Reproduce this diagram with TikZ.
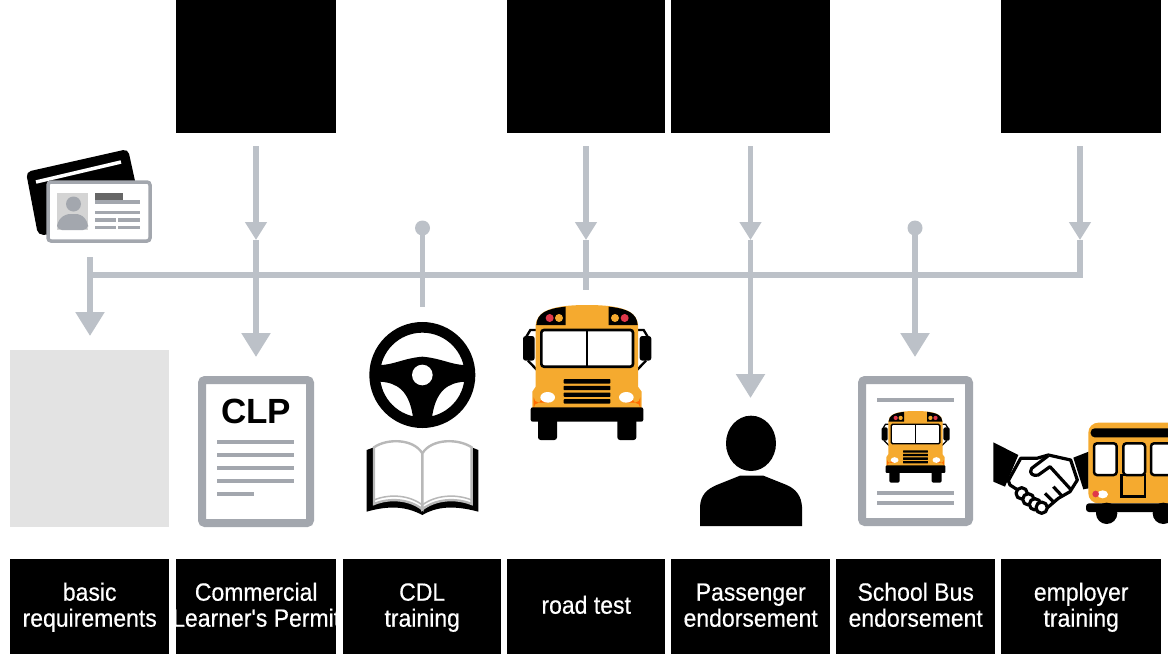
\documentclass[tikz,border=0pt]{standalone}
\usepackage{fontspec}
\setmainfont{Liberation Sans}
\newfontfamily\lblfont[FakeStretch=0.92,FakeBold=0.4]{Liberation Sans}
\usetikzlibrary{arrows.meta}
\definecolor{flowgrey}{HTML}{BCC1C8}
\definecolor{docgrey}{HTML}{A3A7AE}
\definecolor{busorange}{HTML}{F5AA2F}
\definecolor{busred}{HTML}{E0384A}
\tikzset{
    flow/.style={draw=flowgrey,line width=5.5pt},
    midhead/.style={-{Triangle[width=21pt,length=18pt]}},
    endhead/.style={-{Triangle[width=28pt,length=24pt]}},
    topbox/.style={fill=black,minimum width=#1,minimum height=133pt,inner sep=0pt,anchor=north west},
    lblbox/.style={fill=black,text=white,minimum width=#1,minimum height=95pt,inner sep=0pt,anchor=north west,
        align=center,font=\lblfont\fontsize{25}{26}\selectfont},
    docframe/.style={draw=docgrey,fill=white,line width=8pt,rounded corners=3pt},
    docline/.style={draw=docgrey,line width=4pt},
    handline/.style={line width=3.2pt,line join=round},
}
\newcommand{\lblstrut}{\rule[-6pt]{0pt}{26pt}}
\newcommand{\schoolbus}[3]{
    \begin{scope}[shift={(#1,#2)},scale=#3,shift={(-232,-45)}]
        % mirrors
        \draw[line width=#3*7pt] (80,120) -- (62,120) -- (50,140);
        \draw[line width=#3*7pt] (384,120) -- (402,120) -- (414,140);
        \draw[line width=#3*7pt] (55,212) -- (82,240);
        \draw[line width=#3*7pt] (409,212) -- (382,240);
        \fill[rounded corners=#3*8pt] (40,138) rectangle (75,212);
        \fill[rounded corners=#3*8pt] (390,138) rectangle (425,212);
        % body
        \fill[busorange] (78,105) .. controls (82,70) and (110,45) .. (232,45) .. controls (354,45) and (382,70) .. (385,105)
            -- (385,290) -- (396,305) -- (396,355) -- (68,355) -- (68,305) -- (78,290) -- cycle;
        \fill (80,105) .. controls (82,70) and (110,56) .. (168,50) -- (168,105) -- cycle;
        \fill (384,105) .. controls (382,70) and (354,56) .. (297,50) -- (297,105) -- cycle;
        \fill[busred] (120,84) circle (12);
        \fill[busorange] (148,84) circle (12);
        \fill[busorange] (316,84) circle (12);
        \fill[busred] (345,84) circle (12);
        \draw[fill=white,line width=#3*8pt,rounded corners=#3*8pt] (95,120) rectangle (370,230);
        \draw[line width=#3*8pt] (232,120) -- (232,230);
        \foreach \gy in {274,294,314,334}
            \fill[rounded corners=#3*2pt] (162,\gy-6.5) rectangle (302,\gy+6.5);
        \fill[orange!85!red] (72,322) arc (180:90:16) -- (114,306) -- (114,338) -- (88,338) arc (270:180:16);
        \fill[orange!85!red] (392,322) arc (0:90:16) -- (350,306) -- (350,338) -- (376,338) arc (270:360:16);
        \fill[white] (114,322) ellipse (22 and 16);
        \fill[white] (350,322) ellipse (22 and 16);
        % bumper and wheels
        \fill[rounded corners=#3*8pt] (85,385) rectangle (142,450);
        \fill[rounded corners=#3*8pt] (323,385) rectangle (380,450);
        \fill[rounded corners=#3*6pt] (63,352) rectangle (401,395);
    \end{scope}
}

\begin{document}
\begin{tikzpicture}[x=1pt,y=-1pt]
    \useasboundingbox (0,0) rectangle (1168,656);
    % top boxes
    \node[topbox=160pt] (topclp) at (176,0) {};
    \node[topbox=158pt] (toproad) at (507,0) {};
    \node[topbox=159pt] (toppass) at (671,0) {};
    \node[topbox=160pt] (topempl) at (1001,0) {};
    % label boxes
    \node[lblbox=159pt] (lblbasic) at (10,559) {\lblstrut basic\\\lblstrut requirements};
    \node[lblbox=160pt] (lblclp) at (176,559) {\lblstrut Commercial\\\lblstrut\makebox[160pt][c]{Learner's Permit}};
    \node[lblbox=158pt] (lblcdl) at (343,559) {\lblstrut CDL\\\lblstrut training};
    \node[lblbox=158pt] (lblroad) at (507,559) {\lblstrut road test};
    \node[lblbox=159pt] (lblpass) at (671,559) {\lblstrut Passenger\\\lblstrut endorsement};
    \node[lblbox=159pt] (lblschool) at (836,559) {\lblstrut School Bus\\\lblstrut endorsement};
    \node[lblbox=160pt] (lblempl) at (1001,559) {\lblstrut employer\\\lblstrut training};
    \node[fill=black!11,minimum width=159pt,minimum height=177pt,inner sep=0pt,anchor=north west] (basicbox) at (10,350) {};

    % connectors
    \coordinate (bara) at (90,275);
    \coordinate (barb) at (1083,275);
    \coordinate (basicstart) at (90,257);
    \coordinate (basicend) at (90,336);
    \coordinate (clpstart) at (256,146);
    \coordinate (clpmid) at (256,240);
    \coordinate (clpend) at (256,357);
    \coordinate (roadstart) at (586,146);
    \coordinate (roadmid) at (586,240);
    \coordinate (roadend) at (586,290);
    \coordinate (passstart) at (750.5,146);
    \coordinate (passmid) at (750.5,240);
    \coordinate (passend) at (750.5,398);
    \coordinate (emplstart) at (1080,146);
    \coordinate (emplmid) at (1080,240);
    \coordinate (emplend) at (1080,278);
    \coordinate (cdldot) at (422.5,228);
    \coordinate (cdlend) at (422.5,307);
    \coordinate (schooldot) at (915,228);
    \coordinate (schoolend) at (915,357);
    \draw[flow] (bara) -- (barb);
    \draw[flow,endhead] (basicstart) -- (basicend);
    \foreach \stem in {clp,road,pass,empl}
        \draw[flow,midhead] (\stem start) -- (\stem mid);
    \draw[flow,endhead] (clpmid) -- (clpend);
    \draw[flow] (roadmid) -- (roadend);
    \draw[flow,endhead] (passmid) -- (passend);
    \draw[flow] (emplmid) -- (emplend);
    \fill[flowgrey] (cdldot) circle (7.5);
    \draw[flow] (cdldot) -- (cdlend);
    \fill[flowgrey] (schooldot) circle (7.5);
    \draw[flow,endhead] (schooldot) -- (schoolend);

    % id cards
    \fill[rounded corners=5pt] (26,172) -- (128,149) -- (137,190) -- (120,232) -- (38,235) -- cycle;
    \draw[white,line width=3.5pt] (36,182) -- (121,162);
    \draw[draw=docgrey,fill=white,line width=3.5pt,rounded corners=3pt] (48,182) rectangle (150,241);
    \fill[black!17] (57,193) rectangle (88,230);
    \fill[docgrey] (73.5,204) circle (7.5);
    \fill[docgrey,rounded corners=5pt] (57,230) -- (57,222) -- (65,214) -- (81,214) -- (88,222) -- (88,230) -- cycle;
    \fill[black!60] (94.5,193) rectangle (123,200);
    \fill[docgrey] (94.5,200) rectangle (140,204);
    \fill[docgrey] (94.5,210.5) rectangle (140,214);
    \fill[docgrey] (94.5,218) rectangle (116,221.5);
    \fill[docgrey] (118,218) rectangle (140,221.5);
    \fill[docgrey] (94.5,226) rectangle (116,229);
    \fill[docgrey] (118,226) rectangle (140,229);

    % permit
    \draw[docframe] (202,380) rectangle (310,523);
    \node[font=\fontsize{35}{35}\selectfont\bfseries] (clptext) at (256,411) {CLP};
    \foreach \ly in {442,455,468,481}
        \draw[docline] (217,\ly) -- (294,\ly);
    \draw[docline] (217,494) -- (254,494);

    % wheel and book
    \begin{scope}[shift={(190,310)},scale=1/3]
        \draw[line width=32/3*1pt] (697,195) circle (143);
        \fill (570,165) .. controls (610,165) and (640,145) .. (697,140) .. controls (755,145) and (785,165) .. (825,165)
            -- (825,215) .. controls (775,218) and (735,240) .. (725,330) -- (670,330)
            .. controls (660,240) and (620,218) .. (570,215) -- cycle;
        \fill[white] (697,195) circle (31);
        \fill (530,420) -- (552,412) -- (697,435) -- (845,412) -- (865,420) -- (865,605)
            .. controls (790,585) and (740,590) .. (697,615) .. controls (650,590) and (600,585) .. (530,605) -- cycle;
        \draw[black!28,fill=white,line width=2.4pt] (552,412) .. controls (590,385) and (670,385) .. (697,430) -- (697,598)
            .. controls (660,568) and (600,562) .. (552,582) -- cycle;
        \draw[black!28,fill=white,line width=2.4pt] (845,412) .. controls (805,385) and (725,385) .. (697,430) -- (697,598)
            .. controls (735,568) and (795,562) .. (845,582) -- cycle;
        \draw[black!28,line width=1.5pt] (552,570) .. controls (600,550) and (660,556) .. (697,585) .. controls (735,556) and (795,550) .. (845,570);
    \end{scope}

    % road test bus
    \schoolbus{587}{305}{1/3}

    % person
    \begin{scope}[shift={(510,290)},scale=1/3]
        \fill (723,460) ellipse (75 and 83);
        \fill (570,708) -- (570,650) .. controls (572,615) and (590,598) .. (620,585) -- (690,557) -- (760,557) -- (830,585)
            .. controls (860,598) and (874,620) .. (876,650) -- (876,708) -- cycle;
    \end{scope}

    % endorsement
    \draw[docframe] (862,380) rectangle (969,522);
    \draw[docline] (877,400) -- (954,400);
    \schoolbus{915.5}{411}{0.177}
    \draw[docline] (877,493) -- (954,493);
    \draw[docline] (877,503) -- (954,503);

    % handshake and side of bus
    \begin{scope}[shift={(850,360)},scale=1/3]
        \fill (430,247) -- (505,285) -- (465,380) -- (430,365) -- cycle;
        \fill (670,293) -- (716,275) -- (716,385) -- (700,388) -- cycle;
        \draw[fill=white,handline] (512,295) -- (560,295) -- (595,285) -- (662,300) -- (682,360) -- (660,395)
            -- (625,415) -- (590,445) -- (480,375) -- (475,362) -- cycle;
        \foreach \fx/\fy in {515/400,535/418,555/433,575/443}
            \draw[fill=white,handline] (\fx,\fy) circle (17);
        \draw[fill=white,handline] (595,287) -- (545,325) .. controls (535,340) and (550,350) .. (565,345)
            -- (600,320) -- (662,388);
        \draw[handline] (585,400) -- (610,425);
        \draw[handline] (610,380) -- (638,410);
        \begin{scope}
            \clip (700,180) rectangle (954,500);
            \fill[rounded corners=10pt,busorange] (715,430) -- (715,188) -- (1000,188) -- (1000,430) -- cycle;
            \fill[rounded corners=4pt] (722,232) -- (722,205) -- (1000,205) -- (1000,232) -- cycle;
            \foreach \wx/\wy in {732/800,820/885,903/990}
                \draw[fill=white,line width=2.5pt,rounded corners=3pt] (\wx,250) rectangle (\wy,345);
            \draw[line width=2.5pt] (815,345) rectangle (885,410);
            \fill[white] (758,403) ellipse (16 and 12);
            \fill[busred] (737,402) circle (10);
            \fill (770,460) circle (32);
            \fill (940,460) circle (32);
            \fill[rounded corners=3pt] (708,430) rectangle (1000,456);
        \end{scope}
    \end{scope}
\end{tikzpicture}
\end{document}
